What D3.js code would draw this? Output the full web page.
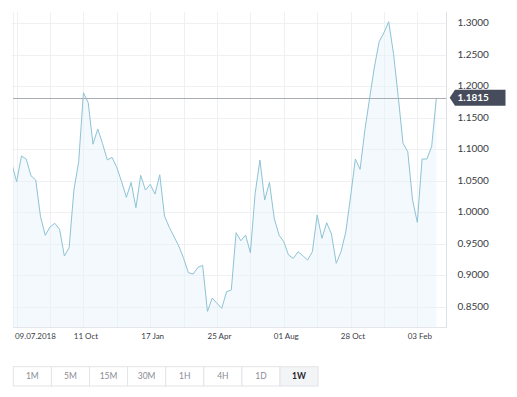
<!DOCTYPE html>
<html lang="en">
<head>
  <meta charset="UTF-8">
  <title>Weekly chart</title>
  <script src="https://d3js.org/d3.v7.min.js"></script>
  <style>
    body { margin: 0; background: #fff; font-family: Lato, "Open Sans", sans-serif; }
    .grid line { stroke: #eef0f2; stroke-width: 1; }
    .line { fill: none; stroke: #8ec3d5; stroke-width: 1; }
    .area { fill: #e9f4f9; opacity: 0.55; }
    .ylab { font-size: 10px; fill: #3a3d45; }
    .xlab { font-size: 8px; fill: #3a3d45; }
    .btn rect { fill: #fff; stroke: #e2e4e7; }
    .btn text { font-size: 8.5px; fill: #8a8d93; text-anchor: middle; }
    .btn.active rect { fill: #f3f4f6; }
    .btn.active text { fill: #22252b; font-weight: bold; }
  </style>
</head>
<body>
  <script>
    // weekly closes, one value per bar
    const values = [
      1.0765, 1.0485, 1.0892, 1.0845, 1.058, 1.0512, 0.993, 0.9635, 0.977, 0.9826,
      0.973, 0.9307, 0.944, 1.0353, 1.0802, 1.1895, 1.1737, 1.108, 1.132, 1.109,
      1.083, 1.087, 1.071, 1.0485, 1.0238, 1.0475, 1.0073, 1.0586, 1.0353, 1.0443,
      1.029, 1.0596, 0.9941, 0.9762, 0.9613, 0.9466, 0.9271, 0.9043, 0.9022, 0.9128,
      0.916, 0.8431, 0.8642, 0.8558, 0.8479, 0.8742, 0.8769, 0.9677, 0.955, 0.964,
      0.936, 1.0301, 1.0829, 1.0195, 1.0475, 0.9905, 0.964, 0.9534, 0.9323, 0.9271,
      0.9376, 0.9312, 0.9244, 0.9376, 0.9957, 0.9588, 0.9835, 0.9656, 0.9192, 0.9376,
      0.9688, 1.0242, 1.0845, 1.0681, 1.13, 1.181, 1.2303, 1.2704, 1.2846, 1.302,
      1.252, 1.1832, 1.1093, 1.096, 1.0195, 0.9842, 1.0845, 1.0845, 1.104, 1.1815
    ];
    const xTickIndex = [1, 15, 29, 43, 57, 71, 85];
    const xTickLabels = ['09.07.2018', '11 Oct', '17 Jan', '25 Apr', '01 Aug', '28 Oct', '03 Feb'];
    const gridIndex = d3.range(1, 90, 7);
    const yTicks = [0.85, 0.9, 0.95, 1.0, 1.05, 1.1, 1.15, 1.2, 1.25, 1.3];
    const currentValue = 1.1815;
    const buttons = ['1M', '5M', '15M', '30M', '1H', '4H', '1D', '1W'];
    const activeButton = '1W';

    const W = 517, H = 397;
    const plot = {left: 13, right: 446, top: 12, bottom: 327};

    const x = d3.scaleLinear().domain([0, values.length - 1]).range([11.9, 436.4]);
    const y = d3.scaleLinear().domain([0.85, 1.3]).range([307, 23]);

    const svg = d3.select('body').append('svg')
      .attr('width', W).attr('height', H);

    svg.append('clipPath').attr('id', 'clip')
      .append('rect')
      .attr('x', plot.left).attr('y', plot.top)
      .attr('width', plot.right - plot.left).attr('height', plot.bottom - plot.top);

    // grid
    const grid = svg.append('g').attr('class', 'grid');
    grid.selectAll('.h').data(yTicks).enter().append('line')
      .attr('x1', plot.left - 1).attr('x2', plot.right)
      .attr('y1', d => Math.round(y(d)) + 0.5).attr('y2', d => Math.round(y(d)) + 0.5);
    grid.selectAll('.v').data(gridIndex).enter().append('line')
      .attr('x1', d => Math.round(x(d)) + 0.5).attr('x2', d => Math.round(x(d)) + 0.5)
      .attr('y1', plot.top).attr('y2', plot.bottom);
    grid.append('line')
      .attr('x1', plot.left + 0.5).attr('x2', plot.left + 0.5)
      .attr('y1', plot.top).attr('y2', plot.bottom);

    // area + line
    const area = d3.area()
      .x((d, i) => x(i)).y0(plot.bottom).y1(d => y(d));
    const line = d3.line()
      .x((d, i) => x(i)).y(d => y(d));

    const g = svg.append('g').attr('clip-path', 'url(#clip)');
    g.append('path').datum(values).attr('class', 'area').attr('d', area);
    g.append('path').datum(values).attr('class', 'line').attr('d', line);

    // axis borders
    svg.append('line')
      .attr('x1', plot.right + 0.5).attr('x2', plot.right + 0.5)
      .attr('y1', plot.top).attr('y2', plot.bottom + 1)
      .attr('stroke', '#dcdfe3');
    svg.append('line')
      .attr('x1', plot.left).attr('x2', plot.right)
      .attr('y1', plot.bottom + 0.5).attr('y2', plot.bottom + 0.5)
      .attr('stroke', '#e4e6e9');

    // y labels
    svg.selectAll('.ylab').data(yTicks).enter().append('text')
      .attr('class', 'ylab')
      .attr('x', 457.5)
      .attr('y', d => y(d) + 0.5)
      .attr('dominant-baseline', 'middle')
      .text(d => d.toFixed(4));

    // x labels
    svg.selectAll('.xlab').data(xTickIndex).enter().append('text')
      .attr('class', 'xlab')
      .attr('x', (d, i) => i === 0 ? x(d) - 1.7 : x(d) + 2.5)
      .attr('y', 338.5)
      .attr('text-anchor', (d, i) => i === 0 ? 'start' : 'middle')
      .text((d, i) => xTickLabels[i]);

    // current price line and tag
    const cy = y(currentValue);
    svg.append('line')
      .attr('x1', plot.left).attr('x2', plot.right)
      .attr('y1', Math.round(cy) + 0.5).attr('y2', Math.round(cy) + 0.5)
      .attr('stroke', '#a9acb1');
    svg.append('path')
      .attr('d', `M449.7,${cy} L455,${cy - 8} L505.5,${cy - 8} L505.5,${cy + 8} L455,${cy + 8} Z`)
      .attr('fill', '#474c5c');
    svg.append('text')
      .attr('x', 457.5).attr('y', cy + 0.5)
      .attr('dominant-baseline', 'middle')
      .attr('fill', '#fff').attr('font-size', 10).attr('font-weight', 'bold')
      .text(currentValue.toFixed(4));

    // timeframe buttons
    const bw = 38.1, bx = 13.3, by = 366.7, bh = 19.3;
    const btn = svg.selectAll('.btn').data(buttons).enter().append('g')
      .attr('class', d => d === activeButton ? 'btn active' : 'btn')
      .attr('transform', (d, i) => `translate(${bx + i * bw},${by})`);
    btn.append('rect').attr('width', bw).attr('height', bh);
    btn.append('text').attr('x', bw / 2).attr('y', 12.6).text(d => d);
  </script>
</body>
</html>
